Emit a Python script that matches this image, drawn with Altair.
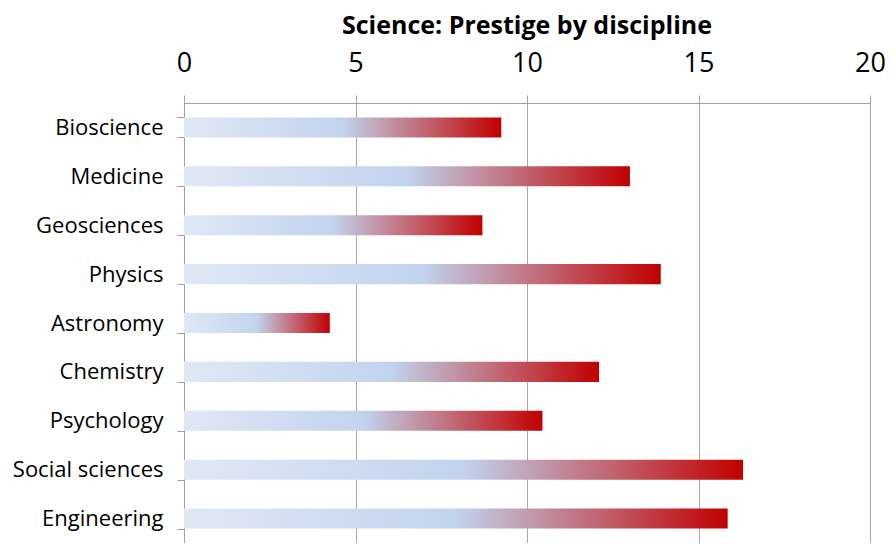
import altair as alt
import pandas as pd

disciplines = ["Bioscience", "Medicine", "Geosciences", "Physics", "Astronomy",
               "Chemistry", "Psychology", "Social sciences", "Engineering"]
prestige = [9.25, 13.0, 8.7, 13.9, 4.25, 12.1, 10.45, 16.3, 15.85]
x_ticks = [0, 5, 10, 15, 20]

df = pd.DataFrame({"discipline": disciplines, "prestige": prestige})

grad = {
    "gradient": "linear",
    "x1": 0, "x2": 1, "y1": 0, "y2": 0,
    "stops": [
        {"offset": 0.0, "color": "#e0e8f5"},
        {"offset": 0.5, "color": "#c2d3ee"},
        {"offset": 1.0, "color": "#c00000"},
    ],
}

FONT = "Open Sans"

chart = alt.Chart(df).mark_bar(color=grad).encode(
    y=alt.Y("discipline:N", sort=disciplines,
            scale=alt.Scale(paddingInner=0.59, paddingOuter=0.295),
            axis=alt.Axis(title=None, labelFont=FONT, labelFontSize=22, labelColor="#000000",
                          labelPadding=14, tickSize=7, tickColor="#a0a0a0", domainColor="#a0a0a0",
                          tickBand="extent", grid=False)),
    x=alt.X("prestige:Q", scale=alt.Scale(domain=[0, 20], nice=False),
            axis=alt.Axis(orient="top", values=x_ticks, title=None, labelFont=FONT,
                          labelFontSize=27, labelColor="#000000", tickSize=8, labelPadding=18,
                          tickColor="#a0a0a0", domainColor="#a0a0a0", gridColor="#a8a8a8",
                          grid=True, labelFlush=False)),
).properties(
    width=686, height=440,
    title=alt.TitleParams("Science: Prestige by discipline", font=FONT, fontSize=25,
                          fontWeight="bold", color="#000000", anchor="middle", offset=10),
    autosize=alt.AutoSizeParams(type="none"),
    padding={"left": 176, "top": 95, "right": 15, "bottom": 0},
).configure_view(stroke=None)

chart.save("out.html", embed_options={"renderer": "svg", "actions": False})
